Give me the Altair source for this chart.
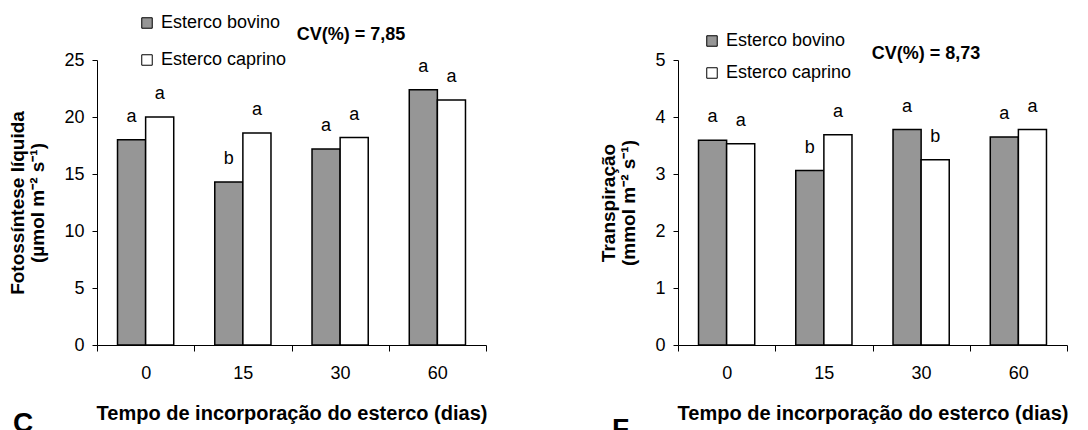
import altair as alt
import pandas as pd

dias = ["0", "15", "30", "60"]
esterco = ["Esterco bovino", "Esterco caprino"]

fot_bovino = [18.0, 14.3, 17.2, 22.4]
fot_caprino = [20.0, 18.6, 18.2, 21.5]
fot_let_bovino = ["a", "b", "a", "a"]
fot_let_caprino = ["a", "a", "a", "a"]

tra_bovino = [3.59, 3.06, 3.78, 3.65]
tra_caprino = [3.53, 3.69, 3.25, 3.78]
tra_let_bovino = ["a", "b", "a", "a"]
tra_let_caprino = ["a", "a", "b", "a"]

FONT = "Liberation Sans, Arial, sans-serif"
W, H = 389, 285


def make_df(bov, cap, lb, lc):
    rows = []
    for i, d in enumerate(dias):
        rows.append({"dia": d, "esterco": esterco[0], "valor": bov[i], "letra": lb[i]})
        rows.append({"dia": d, "esterco": esterco[1], "valor": cap[i], "letra": lc[i]})
    return pd.DataFrame(rows)


def panel(df, ymax, ystep, ytitle, cv, cvx, cvy, legx, legy, rowpad, tag, tagx, tagy):
    x = alt.X("dia:N", sort=dias,
              scale=alt.Scale(paddingInner=0, paddingOuter=0),
              axis=alt.Axis(title="Tempo de incorporação do esterco (dias)",
                            labelAngle=0, tickBand="extent", tickSize=6,
                            labelPadding=13, titlePadding=21))
    xo = alt.XOffset("esterco:N", sort=esterco,
                     scale=alt.Scale(paddingInner=0, paddingOuter=0.73))
    y = alt.Y("valor:Q", scale=alt.Scale(domain=[0, ymax], nice=False),
              axis=alt.Axis(title=ytitle, grid=False,
                            values=[ystep * k for k in range(int(round(ymax / ystep)) + 1)],
                            tickSize=5, labelPadding=8, titlePadding=16))
    bars = alt.Chart(df).mark_bar(stroke="black", strokeWidth=1.5).encode(
        x=x, xOffset=xo, y=y,
        color=alt.Color("esterco:N", sort=esterco,
                        scale=alt.Scale(domain=esterco, range=["#969696", "#ffffff"]),
                        legend=alt.Legend(orient="none", legendX=legx, legendY=legy,
                                          title=None, symbolType="square",
                                          symbolSize=110, symbolStrokeColor="black",
                                          symbolStrokeWidth=1, labelFontSize=18,
                                          labelFont=FONT, labelColor="black",
                                          labelOffset=5, rowPadding=rowpad,
                                          padding=0))
    )
    letters = alt.Chart(df).mark_text(dy=-23, baseline="middle", fontSize=18,
                                      font=FONT, color="black").encode(
        x=x, xOffset=xo, y=y, text="letra:N")
    one = pd.DataFrame({"t": [cv]})
    cvtext = alt.Chart(one).mark_text(fontSize=18, fontWeight="bold", font=FONT,
                                      color="black", align="center",
                                      baseline="middle").encode(
        x=alt.value(cvx), y=alt.value(cvy), text="t:N")
    tagdf = pd.DataFrame({"t": [tag]})
    tagtext = alt.Chart(tagdf).mark_text(fontSize=28, fontWeight="bold", font=FONT,
                                         color="black", align="left",
                                         baseline="top").encode(
        x=alt.value(tagx), y=alt.value(tagy), text="t:N")
    return alt.layer(bars, letters, cvtext, tagtext).properties(width=W, height=H)


left = panel(make_df(fot_bovino, fot_caprino, fot_let_bovino, fot_let_caprino),
             25, 5, ["Fotossíntese líquida", "(µmol m⁻² s⁻¹)"], "CV(%) = 7,85",
             254, -25, 41, -46, 19, "C", -84, 350)
right = panel(make_df(tra_bovino, tra_caprino, tra_let_bovino, tra_let_caprino),
              5, 1, ["Transpiração", "(mmol m⁻² s⁻¹)"], "CV(%) = 8,73",
              248, -6, 25, -28, 14, "F", -66, 356)

chart = alt.hconcat(left, right, spacing=192, bounds="flush").resolve_scale(
    color="independent").properties(padding={"left": 0, "top": 6, "right": 5, "bottom": 0}).configure_view(
    stroke=None).configure_axis(
    domainColor="black", tickColor="black", labelColor="black", titleColor="black",
    labelFont=FONT, titleFont=FONT, labelFontSize=18, titleFontSize=19,
    titleFontWeight="bold", titleLineHeight=20, domainWidth=1, tickWidth=1
).configure_axisX(titleFontSize=20)

chart.save("out.html", embed_options={"renderer": "svg", "actions": False})
